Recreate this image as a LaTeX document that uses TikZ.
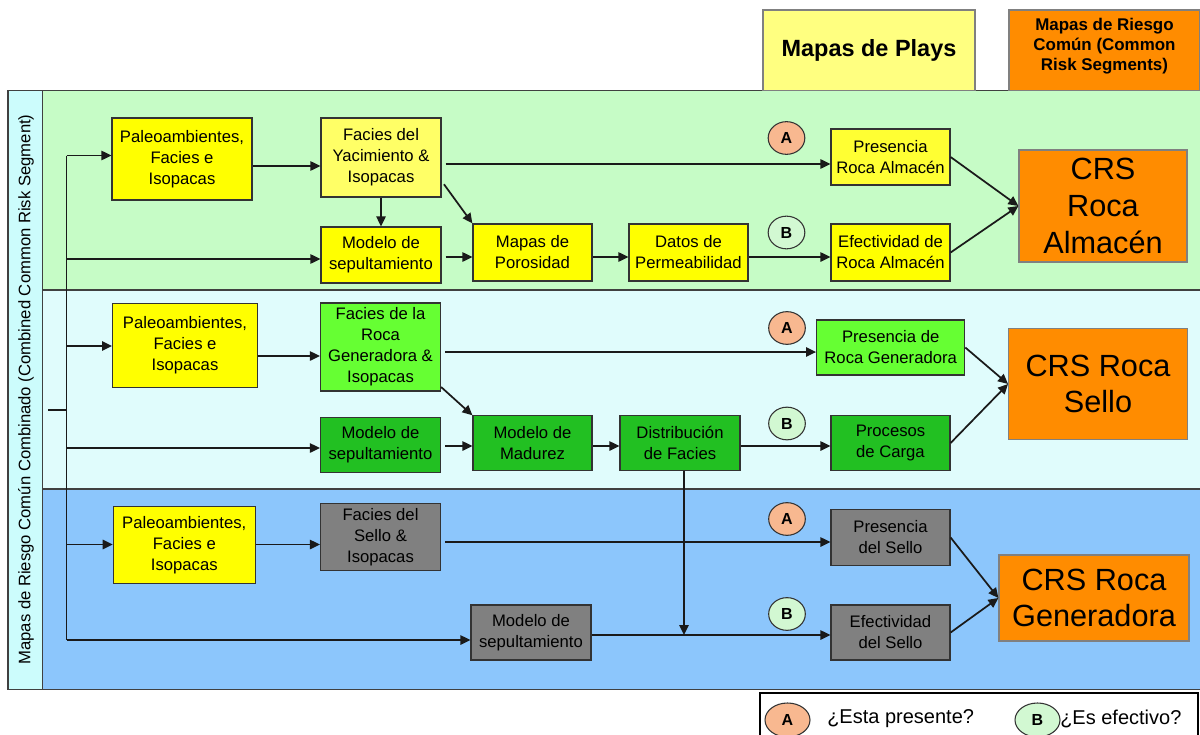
\documentclass[tikz,border=0pt]{standalone}
\usepackage{fontspec}
\setmainfont{Liberation Sans}
\usetikzlibrary{arrows.meta,shapes.geometric}
\definecolor{bandG}{HTML}{C6FCC6}
\definecolor{bandC}{HTML}{E0FCFC}
\definecolor{bandB}{HTML}{8CC6FC}
\definecolor{stripC}{HTML}{CCFCFC}
\definecolor{yelA}{HTML}{FFFF00}
\definecolor{yelL}{HTML}{FFFF66}
\definecolor{yelM}{HTML}{FFFF33}
\definecolor{hdrY}{HTML}{FFFF80}
\definecolor{orng}{HTML}{FF8C00}
\definecolor{grnB}{HTML}{66FF33}
\definecolor{grnD}{HTML}{22C022}
\definecolor{grayB}{HTML}{808080}
\definecolor{circA}{HTML}{F8B890}
\definecolor{circB}{HTML}{D2F8D2}
\definecolor{lineC}{HTML}{1A1A1A}
\begin{document}
\begin{tikzpicture}[x=0.75pt,y=-0.75pt,
  box/.style={draw=black!80, line width=0.9pt, align=center, inner sep=0pt,
    font=\fontsize{12.5pt}{15.75pt}\selectfont},
  crs/.style={draw=black!50, line width=0.9pt, fill=orng, align=center, inner sep=0pt,
    font=\fontsize{23pt}{27.5pt}\selectfont},
  circ/.style={ellipse, draw=black!80, line width=0.8pt, minimum width=27.5pt, minimum height=24.5pt,
    inner sep=0pt, font=\bfseries\fontsize{12pt}{14pt}\selectfont},
  ln/.style={draw=lineC, line width=1.3pt},
  arr/.style={ln, -{Triangle[length=7.5pt,width=7pt]}},
  frameln/.style={draw=black!75, line width=1pt}
]
\useasboundingbox (0,0) rectangle (1200,735);
\fill[white] (0,0) rectangle (1200,735);
% bands
\fill[bandG] (42.5,90.5) rectangle (1205,290);
\fill[bandC] (42.5,290) rectangle (1205,489);
\fill[bandB] (42.5,489) rectangle (1205,689.5);
\fill[stripC] (8,90.5) rectangle (42.5,689.5);
\draw[frameln] (1205,90.5) -- (8,90.5) -- (8,689.5) -- (1205,689.5);
\draw[frameln] (42.5,90.5) -- (42.5,689.5);
\draw[frameln] (42.5,290) -- (1205,290);
\draw[frameln] (42.5,489) -- (1205,489);
\node[rotate=90, font=\fontsize{12.5pt}{15pt}\selectfont] (side) at (26,389.5)
  {Mapas de Riesgo Común Combinado (Combined Common Risk Segment)};
% headers
\node[draw=black!50, line width=0.9pt, fill=hdrY, minimum width=159pt, minimum height=60.4pt,
  inner sep=0pt, font=\bfseries\fontsize{17.6pt}{20pt}\selectfont] (hp) at (869,50.25) {\raisebox{-2pt}{Mapas de Plays}};
\node[draw=black!50, line width=0.9pt, fill=orng, minimum width=143.25pt, minimum height=60.4pt,
  inner sep=0pt, align=center, font=\bfseries\fontsize{12.7pt}{15pt}\selectfont] (hr) at (1104.5,50.25)
  {\\[-12pt]Mapas de Riesgo\\Común (Common\\Risk Segments)};
% ---- band 1
\node[box, fill=yelA, minimum width=105pt, minimum height=61.5pt] (p1) at (182,159) {Paleoambientes,\\Facies e\\Isopacas};
\node[box, fill=yelL, minimum width=90pt, minimum height=59.25pt] (fy) at (381,157.5) {Facies del\\Yacimiento \&\\Isopacas};
\node[box, fill=yelA, minimum width=90pt, minimum height=42pt] (m1) at (381,255) {Modelo de\\sepultamiento};
\node[box, fill=yelA, minimum width=89.25pt, minimum height=42.75pt] (mp) at (532.5,252.5) {Mapas de\\Porosidad};
\node[box, fill=yelA, minimum width=89.25pt, minimum height=42.75pt] (dp) at (688.5,252.5) {Datos de\\Permeabilidad};
\node[box, fill=yelM, minimum width=89.25pt, minimum height=42pt] (pra) at (890.5,157) {Presencia\\Roca Almacén};
\node[box, fill=yelA, minimum width=89.25pt, minimum height=42.75pt] (era) at (890.5,252.5) {Efectividad de\\Roca Almacén};
\node[crs, minimum width=126pt, minimum height=84pt] (crs1) at (1103,206) {CRS\\Roca\\Almacén};
\node[circ, fill=circA] (cA1) at (786.5,138) {A};
\node[circ, fill=circB] (cB1) at (786.5,232.5) {B};
% ---- band 2
\node[box, fill=yelA, minimum width=108.5pt, minimum height=63.3pt] (p2) at (185,345.5) {Paleoambientes,\\Facies e\\Isopacas};
\node[box, fill=grnB, minimum width=90pt, minimum height=66pt] (frg) at (380.5,347) {Facies de la\\Roca\\Generadora \&\\Isopacas};
\node[box, fill=grnD, minimum width=90pt, minimum height=41.25pt] (m2) at (380.5,445) {Modelo de\\sepultamiento};
\node[box, fill=grnD, minimum width=89.25pt, minimum height=40.7pt] (mm) at (532.5,443) {Modelo de\\Madurez};
\node[box, fill=grnD, minimum width=90pt, minimum height=40.7pt] (df) at (680,443) {Distribución\\de Facies};
\node[box, fill=grnD, minimum width=89.25pt, minimum height=40.7pt] (pc) at (890.5,443) {Procesos\\de Carga};
\node[box, fill=grnB, minimum width=111pt, minimum height=41.25pt] (prg) at (890.7,347.5) {Presencia de\\Roca Generadora};
\node[crs, minimum width=134pt, minimum height=83.25pt] (crs2) at (1098,384) {CRS Roca\\Sello};
\node[circ, fill=circA] (cA2) at (787,328) {A};
\node[circ, fill=circB] (cB2) at (787,423.5) {B};
% ---- band 3
\node[box, fill=yelA, minimum width=106.5pt, minimum height=58.3pt] (p3) at (184.3,545) {Paleoambientes,\\Facies e\\Isopacas};
\node[box, fill=grayB, minimum width=90pt, minimum height=50.5pt] (fs) at (380.5,537) {Facies del\\Sello \&\\Isopacas};
\node[box, fill=grayB, minimum width=90pt, minimum height=41.25pt] (m3) at (531,632.5) {Modelo de\\sepultamiento};
\node[box, fill=grayB, minimum width=89.25pt, minimum height=42.3pt] (ps) at (890.5,537.5) {Presencia\\del Sello};
\node[box, fill=grayB, minimum width=89.25pt, minimum height=41.25pt] (es) at (890.5,632.5) {Efectividad\\del Sello};
\node[crs, minimum width=142.5pt, minimum height=64.5pt] (crs3) at (1094,598) {CRS Roca\\Generadora};
\node[circ, fill=circA] (cA3) at (787,519) {A};
\node[circ, fill=circB] (cB3) at (787,614) {B};
% ---- bus
\coordinate (bt) at (66.5,155.5);
\coordinate (bb) at (66.5,640);
\coordinate (b1) at (66.5,259);
\coordinate (b2) at (66.5,346);
\coordinate (b3) at (66.5,448);
\coordinate (b4) at (66.5,544.5);
\coordinate (tk) at (48,410);
\draw[ln] (bt) -- (bb);
\draw[ln] (tk) -- (tk -| bt);
\draw[arr] (bt) -- (bt -| p1.west);
\draw[arr] (b1) -- (b1 -| m1.west);
\draw[arr] (b2) -- (b2 -| p2.west);
\draw[arr] (b3) -- (b3 -| m2.west);
\draw[arr] (b4) -- (b4 -| p3.west);
\draw[arr] (bb) -- (bb -| m3.west);
% band 1 connectors
\draw[arr] (p1.east |- 0,166) -- (fy.west |- 0,166);
\draw[arr] (fy.south) -- (m1.north);
\draw[arr, shorten <=3pt] (fy.east |- 0,181) -- (mp.north west);
\draw[arr, shorten <=3pt] (m1.east |- 0,257) -- (mp.west |- 0,257);
\draw[arr, shorten <=3pt] (fy.east |- 0,164) -- (pra.west |- 0,164);
\draw[arr] (mp.east |- 0,257) -- (dp.west |- 0,257);
\draw[arr] (dp.east |- 0,257) -- (era.west |- 0,257);
\draw[arr] (pra.east) -- (crs1.west);
\draw[arr] (era.east) -- (crs1.west);
% band 2 connectors
\draw[arr] (p2.east |- 0,356) -- (frg.west |- 0,356);
\draw[arr, shorten <=3pt] (frg.east |- 0,352) -- (prg.west |- 0,352);
\draw[arr] (frg.east |- 0,387) -- (mm.north west);
\draw[arr, shorten <=3pt] (m2.east |- 0,446) -- (mm.west |- 0,446);
\draw[arr] (mm.east |- 0,446) -- (df.west |- 0,446);
\draw[arr] (df.east |- 0,446) -- (pc.west |- 0,446);
\draw[arr] (prg.east) -- (crs2.west);
\draw[arr] (pc.east) -- (crs2.west);
\coordinate (dj) at (684,635);
\draw[arr] (dj |- df.south) -- (dj);
% band 3 connectors
\draw[arr] (p3.east |- 0,544.5) -- (fs.west |- 0,544.5);
\draw[arr, shorten <=3pt] (fs.east |- 0,542) -- (ps.west |- 0,542);
\draw[arr] (m3.east |- 0,635) -- (es.west |- 0,635);
\draw[arr] (ps.east) -- (crs3.west);
\draw[arr] (es.east) -- (crs3.west);
% legend
\draw[line width=2.2pt, fill=white] (760,693) rectangle (1198,745);
\node[circ, fill=circA, minimum width=33.75pt, minimum height=25.5pt] (lA) at (787.5,720) {A};
\node[anchor=west, inner sep=0pt, font=\fontsize{15pt}{18pt}\selectfont] (ltA) at (827,719) {¿Esta presente?};
\node[circ, fill=circB, minimum width=33.75pt, minimum height=25.5pt] (lB) at (1037.5,720) {B};
\node[anchor=west, inner sep=0pt, font=\fontsize{15pt}{18pt}\selectfont] (ltB) at (1060,719) {¿Es efectivo?};
\end{tikzpicture}
\end{document}
